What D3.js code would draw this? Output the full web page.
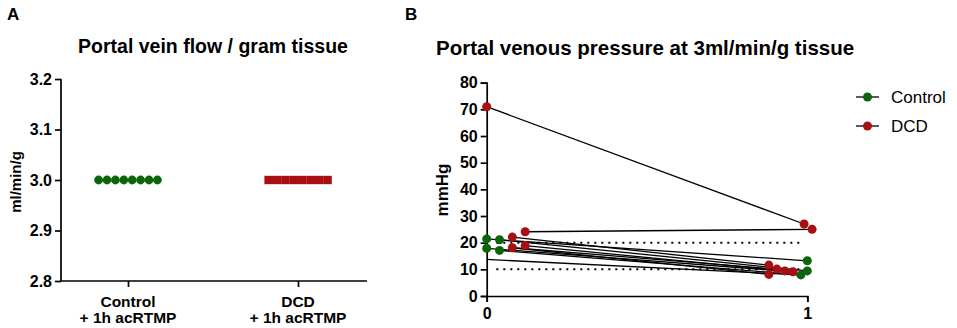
<!DOCTYPE html>
<html>
<head>
<meta charset="utf-8">
<script src="https://cdn.jsdelivr.net/npm/d3@7"></script>
<style>
  body { margin: 0; background: #fff; }
  svg { font-family: "Liberation Sans", Arial, sans-serif; }
  .axis path, .axis line { stroke: #000; stroke-width: 1.7; }
  .axis text { font-size: 16px; font-weight: bold; fill: #000; }
</style>
</head>
<body>
<svg id="chart" width="957" height="328"></svg>
<script>
// panel A: flow per gram, one value per animal
var flowGroups = ["Control", "DCD"];
var flowTicks = [2.8, 2.9, 3.0, 3.1, 3.2];
var controlFlow = [3.0, 3.0, 3.0, 3.0, 3.0, 3.0, 3.0, 3.0];
var dcdFlow = [3.0, 3.0, 3.0, 3.0, 3.0, 3.0, 3.0, 3.0];

// panel B: pressure, [x (jittered), mmHg]
var pressureTicks = [0, 10, 20, 30, 40, 50, 60, 70, 80];
var timeTicks = [0, 1];
var refLines = [10, 20];
var controlPre = [[0, 21.4], [0, 17.9], [0.04, 21.1], [0.04, 17.1]];
var controlPost = [[1.0, 13.2], [0.98, 7.9], [1.0, 9.4]];
var dcdPre = [[0, 71], [0.12, 24.1], [0.08, 22.1], [0.08, 18.1], [0.12, 18.9]];
var dcdPost = [[0.99, 27], [1.015, 25], [0.88, 11.6], [0.88, 8.1], [0.905, 10.1], [0.93, 9.4], [0.955, 9.1]];
// before -> after pairs per animal
var pairs = [
    [[0, 71], [0.99, 27]],
    [[0.12, 24.1], [1.015, 25]],
    [[0, 21.4], [1.0, 13.2]],
    [[0.08, 22.1], [0.88, 11.6]],
    [[0.04, 21.1], [1.0, 9.4]],
    [[0.12, 18.9], [0.93, 9.4]],
    [[0, 17.9], [0.955, 9.1]],
    [[0.08, 18.1], [0.905, 10.1]],
    [[0.04, 17.1], [0.98, 7.9]],
    [[0, 13.7], [0.98, 7.9]],
    [[0.08, 18.1], [0.88, 8.1]]
];

var GREEN = "#0b650b";
var RED = "#a80f12";

var svg = d3.select("#chart");

// ---------- panel A ----------
var xA = d3.scalePoint().domain(flowGroups).range([128, 298]);
var yA = d3.scaleLinear().domain([2.8, 3.2]).range([281, 79]);
var gA = svg.append("g");

gA.append("text").attr("x", 7).attr("y", 20)
    .style("font-size", "17px").style("font-weight", "bold").text("A");
gA.append("text").attr("x", 213).attr("y", 53).attr("text-anchor", "middle")
    .style("font-size", "19.5px").style("font-weight", "bold").text("Portal vein flow / gram tissue");

gA.append("g").attr("class", "axis").attr("transform", "translate(61,0)")
    .call(d3.axisLeft(yA).tickValues(flowTicks).tickFormat(d3.format(".1f")).tickSize(6).tickPadding(3))
    .call(function (g) { g.select(".domain").attr("d", "M0,281V79"); });

var axA = gA.append("g").attr("class", "axis").attr("transform", "translate(0,281)")
    .call(d3.axisBottom(xA).tickSize(6).tickFormat(""));
axA.select(".domain").attr("d", "M61,0H367");
flowGroups.forEach(function (c) {
    var t = axA.append("text").attr("text-anchor", "middle").attr("fill", "#000")
        .style("font-size", "15.5px").style("font-weight", "bold");
    t.append("tspan").attr("x", xA(c)).attr("y", 26).text(c);
    t.append("tspan").attr("x", xA(c)).attr("y", 42).text("+ 1h acRTMP");
});

gA.append("text").attr("transform", "translate(21,182) rotate(-90)").attr("text-anchor", "middle")
    .style("font-size", "15px").style("font-weight", "bold").text("ml/min/g");

var step = 8.4;
gA.selectAll(".ctl").data(controlFlow).enter().append("circle")
    .attr("cx", function (d, i) { return xA("Control") + (i - 3.5) * step; })
    .attr("cy", function (d) { return yA(d); })
    .attr("r", 4.4).attr("fill", GREEN);
gA.selectAll(".dcd").data(dcdFlow).enter().append("rect")
    .attr("x", function (d, i) { return xA("DCD") + (i - 4) * step; })
    .attr("y", function (d) { return yA(d) - 4.2; })
    .attr("width", step + 0.2).attr("height", 8.4).attr("fill", RED);

// ---------- panel B ----------
var xB = d3.scaleLinear().domain([0, 1]).range([486.7, 807.3]);
var yB = d3.scaleLinear().domain([0, 80]).range([296, 82.7]);
var gB = svg.append("g");

gB.append("text").attr("x", 405).attr("y", 20)
    .style("font-size", "17px").style("font-weight", "bold").text("B");
gB.append("text").attr("x", 436).attr("y", 55)
    .style("font-size", "20.5px").style("font-weight", "bold").text("Portal venous pressure at 3ml/min/g tissue");

gB.append("g").attr("class", "axis").attr("transform", "translate(" + xB(0) + ",0)")
    .call(d3.axisLeft(yB).tickValues(pressureTicks).tickSize(6).tickPadding(3));
gB.append("g").attr("class", "axis").attr("transform", "translate(0," + yB(0) + ")")
    .call(d3.axisBottom(xB).tickValues(timeTicks).tickFormat(d3.format("d")).tickSize(6).tickPadding(6));

gB.append("text").attr("transform", "translate(448,190) rotate(-90)").attr("text-anchor", "middle")
    .style("font-size", "17px").style("font-weight", "bold").text("mmHg");

gB.selectAll(".ref").data(refLines).enter().append("line")
    .attr("x1", xB(0.03)).attr("x2", xB(0.99))
    .attr("y1", function (d) { return yB(d); }).attr("y2", function (d) { return yB(d); })
    .attr("stroke", "#000").attr("stroke-width", 2).attr("stroke-dasharray", "2,5");

var line = d3.line().x(function (d) { return xB(d[0]); }).y(function (d) { return yB(d[1]); });
gB.selectAll(".pair").data(pairs).enter().append("path")
    .attr("d", line).attr("fill", "none").attr("stroke", "#000").attr("stroke-width", 1.3);

function dots(data, color) {
    gB.append("g").selectAll("circle").data(data).enter().append("circle")
        .attr("cx", function (d) { return xB(d[0]); })
        .attr("cy", function (d) { return yB(d[1]); })
        .attr("r", 4.5).attr("fill", color);
}
dots(controlPre, GREEN);
dots(controlPost, GREEN);
dots(dcdPre, RED);
dots(dcdPost, RED);

// legend
var legend = [["Control", GREEN], ["DCD", RED]];
var lg = gB.selectAll(".leg").data(legend).enter().append("g")
    .attr("transform", function (d, i) { return "translate(856," + (97 + i * 29) + ")"; });
lg.append("line").attr("x1", 0).attr("x2", 23).attr("stroke", "#000").attr("stroke-width", 1.3);
lg.append("circle").attr("cx", 11.5).attr("r", 4.5).attr("fill", function (d) { return d[1]; });
lg.append("text").attr("x", 35).attr("y", 6).style("font-size", "17px").text(function (d) { return d[0]; });
</script>
</body>
</html>
